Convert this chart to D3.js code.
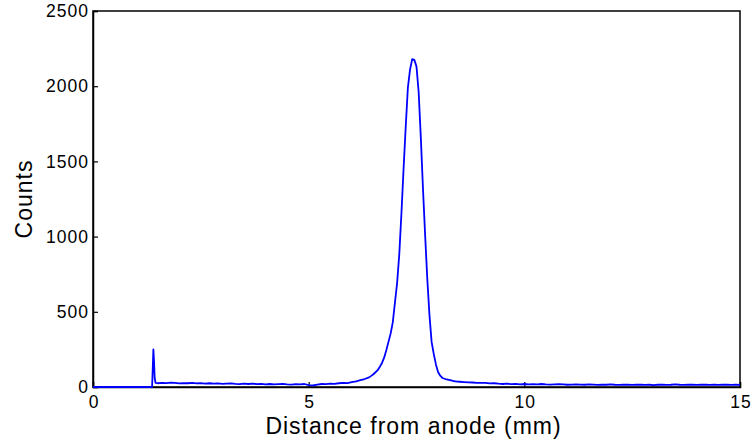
<!DOCTYPE html>
<html>
<head>
<meta charset="utf-8">
<script src="https://cdn.jsdelivr.net/npm/d3@7"></script>
<style>
  body { margin: 0; background: #fff; }
  svg { display: block; }
  text { font-family: Arial, "Liberation Sans", sans-serif; fill: #000; }
</style>
</head>
<body>
<svg id="chart" width="754" height="442"></svg>
<script>
// ---- Data ----
const distance = [
  0, 1.37, 1.385, 1.40, 1.415, 1.43, 1.45,
  1.5, 1.6, 1.7, 1.8, 1.9, 2.0, 2.1, 2.2, 2.3, 2.4, 2.5, 2.6, 2.7, 2.8, 2.9,
  3.0, 3.1, 3.2, 3.3, 3.4, 3.5, 3.6, 3.7, 3.8, 3.9, 4.0, 4.1, 4.2, 4.3, 4.4,
  4.5, 4.6, 4.7, 4.8, 4.9, 5.0, 5.1, 5.2, 5.3, 5.4, 5.5, 5.6, 5.7, 5.8, 5.9,
  6.0, 6.1, 6.2, 6.3, 6.4, 6.45,
  6.5, 6.55, 6.6, 6.65, 6.7, 6.75, 6.8, 6.85, 6.9, 6.95, 7.0, 7.05, 7.1, 7.15,
  7.2, 7.25, 7.3, 7.35, 7.4, 7.45, 7.5, 7.55, 7.6, 7.65, 7.7, 7.75, 7.8, 7.85,
  7.9, 7.95, 8.0, 8.05, 8.1, 8.15, 8.2, 8.25, 8.3, 8.35, 8.4, 8.45, 8.5,
  8.6, 8.7, 8.8, 8.9, 9.0, 9.1, 9.2, 9.3, 9.4, 9.5, 9.6, 9.7, 9.8, 9.9,
  10.0, 10.1, 10.2, 10.3, 10.4, 10.5, 10.6, 10.7, 10.8, 10.9,
  11.0, 11.1, 11.2, 11.3, 11.4, 11.5, 11.6, 11.7, 11.8, 11.9,
  12.0, 12.1, 12.2, 12.3, 12.4, 12.5, 12.6, 12.7, 12.8, 12.9,
  13.0, 13.1, 13.2, 13.3, 13.4, 13.5, 13.6, 13.7, 13.8, 13.9,
  14.0, 14.1, 14.2, 14.3, 14.4, 14.5, 14.6, 14.7, 14.8, 14.9, 15.0
];
const counts = [
  0, 0, 120, 250, 170, 60, 28,
  25, 27, 26, 29, 27, 24, 26, 25, 27, 24, 26, 23, 25, 22, 24,
  21, 23, 24, 21, 19, 22, 20, 23, 19, 21, 18, 20, 17, 19, 21,
  18, 16, 19, 17, 20, 12, 10, 16, 20, 19, 22, 21, 25, 28, 26,
  33, 38, 46, 53, 64, 74,
  85, 98, 112, 135, 160, 195, 245, 300, 355, 430, 560, 690, 880, 1150,
  1450, 1730, 1990, 2110, 2180, 2175, 2130, 1960, 1660, 1320, 1010, 720, 480, 300,
  220, 150, 100, 75, 60, 55, 50, 48, 44, 40, 38, 36, 35,
  33, 31, 30, 28, 27, 28, 24, 25, 22, 20, 22, 19, 21, 18,
  20, 17, 19, 18, 20, 17, 16, 18, 19, 17,
  15, 16, 18, 16, 15, 17, 16, 14, 16, 15,
  17, 15, 14, 16, 15, 14, 15, 16, 14, 15,
  13, 15, 16, 14, 15, 17, 15, 14, 16, 15,
  14, 15, 16, 14, 15, 14, 15, 16, 14, 15, 14
];
const xTicks = [0, 5, 10, 15];
const yTicks = [0, 500, 1000, 1500, 2000, 2500];
const xLabel = "Distance from anode (mm)";
const yLabel = "Counts";

// ---- Layout ----
const W = 754, H = 442;
const margin = { left: 93, top: 11, right: 14, bottom: 55 };
const iw = W - margin.left - margin.right;
const ih = H - margin.top - margin.bottom;

const svg = d3.select("#chart");
const g = svg.append("g").attr("transform", `translate(${margin.left},${margin.top})`);

const x = d3.scaleLinear().domain([0, 15]).range([0, iw]);
const y = d3.scaleLinear().domain([0, 2500]).range([ih, 0]);

// Box
g.append("rect")
  .attr("x", 0).attr("y", 0).attr("width", iw).attr("height", ih)
  .attr("fill", "none").attr("stroke", "#000").attr("stroke-width", 1.5);

// Axes with inward ticks
const xAxis = d3.axisBottom(x).tickValues(xTicks).tickSize(-5).tickPadding(10).tickFormat(d3.format("d"));
const yAxis = d3.axisLeft(y).tickValues(yTicks).tickSize(-5).tickPadding(10).tickFormat(d3.format("d"));

const gx = g.append("g").attr("transform", `translate(0,${ih})`).call(xAxis);
const gy = g.append("g").call(yAxis);
[gx, gy].forEach(a => {
  a.select(".domain").attr("stroke", "#000").attr("stroke-width", 1.5);
  a.selectAll(".tick line").attr("stroke", "#000").attr("stroke-width", 1.2);
  a.selectAll(".tick text")
    .style("font-size", "17.5px")
    .style("letter-spacing", "1px")
    .style("font-family", "Arial, 'Liberation Sans', sans-serif")
    .attr("fill", "#000");
});
gy.selectAll(".tick text").attr("x", -4);
gx.selectAll(".tick text").attr("y", 9).attr("dx", "0.5");

// Line
const pts = distance.map((d, i) => [d, counts[i]]);
g.append("path")
  .datum(pts)
  .attr("fill", "none")
  .attr("stroke", "#0000ff")
  .attr("stroke-width", 1.8)
  .attr("stroke-linejoin", "round")
  .attr("d", d3.line().x(d => x(d[0])).y(d => y(d[1])));

// Axis labels
svg.append("text")
  .attr("x", margin.left + iw / 2 - 3).attr("y", 434)
  .attr("text-anchor", "middle")
  .style("font-size", "23px")
  .style("letter-spacing", "1px")
  .text(xLabel);

svg.append("text")
  .attr("transform", `translate(32,${margin.top + ih / 2}) rotate(-90)`)
  .attr("text-anchor", "middle")
  .style("font-size", "23px")
  .style("letter-spacing", "1px")
  .text(yLabel);
</script>
</body>
</html>
